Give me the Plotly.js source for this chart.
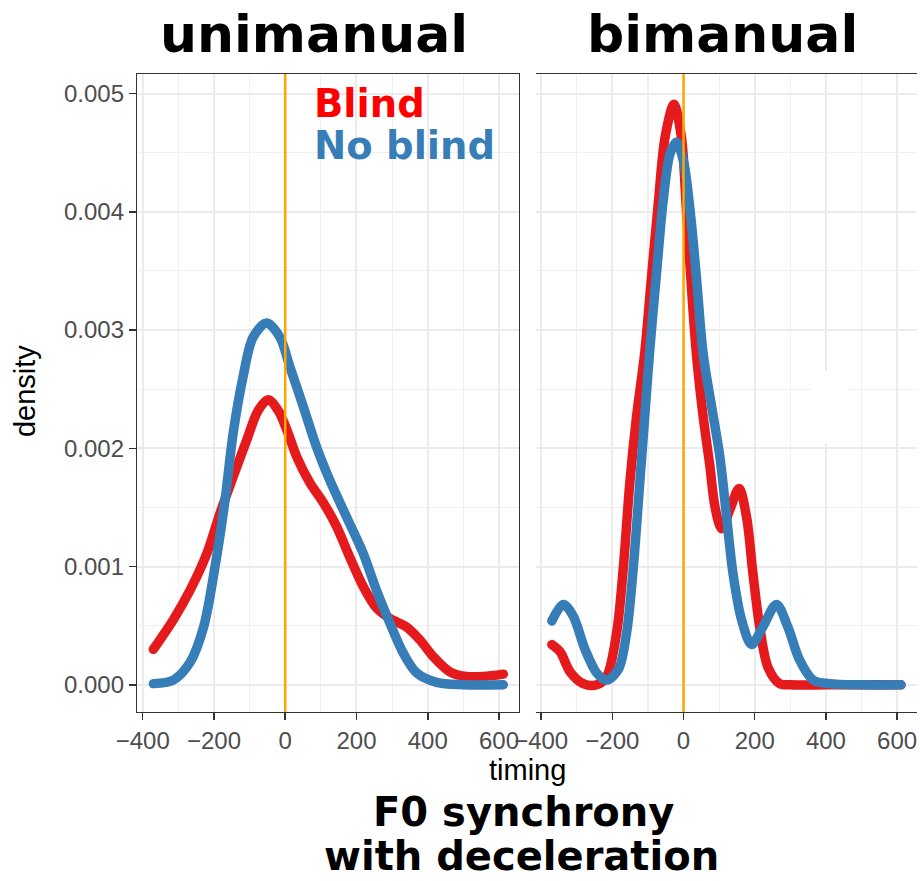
<!DOCTYPE html>
<html>
<head>
<meta charset="utf-8">
<script src="https://cdn.plot.ly/plotly-3.0.1.min.js"></script>
<style>
body{margin:0;padding:0;background:#fff;}
#chart{width:920px;height:881px;}
path.js-line{stroke-linecap:round;}
</style>
</head>
<body>
<div id="chart"></div>
<script>
const facetTitles = ["unimanual", "bimanual"];
const seriesNames = ["Blind", "No blind"];
const xTickVals = [-400, -200, 0, 200, 400, 600];
const yTickVals = [0, 0.001, 0.002, 0.003, 0.004, 0.005];

const uniBlindX = [-370,-314,-267,-220,-183,-146,-108,-76,-48,-20,4,32,69,107,144,181,219,256,294,340,378,415,462,509,556,612];
const uniBlindY = [0.00030,0.00055,0.00080,0.00111,0.00145,0.00176,0.00207,0.00232,0.00241,0.00232,0.00216,0.00193,0.00171,0.00154,0.00134,0.00108,0.00083,0.00065,0.00056,0.00049,0.00038,0.00024,0.00011,0.00007,0.00007,0.00009];

const uniNoBlindX = [-370,-314,-267,-229,-197,-169,-146,-118,-90,-52,-15,13,51,88,125,172,219,256,294,331,369,425,500,612];
const uniNoBlindY = [0.00001,0.00004,0.00019,0.00049,0.00100,0.00156,0.00213,0.00261,0.00294,0.00306,0.00294,0.00269,0.00235,0.00201,0.00173,0.00142,0.00111,0.00080,0.00052,0.00027,0.00010,0.00002,0,0];

const biBlindX = [-370,-347,-319,-282,-244,-216,-188,-169,-151,-132,-109,-90,-71,-52,-27,-6,8,22,36,55,74,88,107,130,156,177,195,214,237,270,300,400,500,611];
const biBlindY = [0.00034,0.00028,0.00011,0.00001,0,0.00007,0.00044,0.00100,0.00171,0.00227,0.00281,0.00345,0.00407,0.00463,0.00491,0.00463,0.00402,0.00337,0.00280,0.00227,0.00185,0.00151,0.00132,0.00148,0.00166,0.00142,0.00094,0.00049,0.00015,0.00001,0,0,0,0];

const biNoBlindX = [-370,-338,-310,-277,-244,-216,-183,-160,-141,-123,-109,-95,-76,-57,-38,-20,-1,18,36,55,79,102,121,139,163,191,223,261,293,326,364,410,500,611];
const biNoBlindY = [0.00054,0.00068,0.00058,0.00030,0.00010,0.00004,0.00013,0.00044,0.00100,0.00171,0.00227,0.00283,0.00348,0.00410,0.00449,0.00459,0.00444,0.00402,0.00345,0.00280,0.00235,0.00193,0.00142,0.00094,0.00055,0.00034,0.00049,0.00068,0.00049,0.00021,0.00004,0.00001,0,0];

const RED = "#E41A1C", BLUE = "#377EB8";

function tr(x, y, color, xa, name) {
  return {x: x, y: y, type: "scatter", mode: "lines", name: name, xaxis: xa, yaxis: "y",
    line: {color: color, width: 9.5, shape: "spline", smoothing: 0.9}, hoverinfo: "skip"};
}

const data = [
  tr(uniBlindX, uniBlindY, RED, "x", seriesNames[0]),
  tr(biBlindX, biBlindY, RED, "x2", seriesNames[0]),
  tr(uniNoBlindX, uniNoBlindY, BLUE, "x", seriesNames[1]),
  tr(biNoBlindX, biNoBlindY, BLUE, "x2", seriesNames[1])
];

const tickFont = {family: "Liberation Sans, Arial, sans-serif", size: 24, color: "#4D4D4D"};
function xaxisDef(domain) {
  return {domain: domain, range: [-416, 656], tickvals: xTickVals, ticks: "outside", ticklen: 7, tickwidth: 1.5,
    tickcolor: "#333333", showline: true, mirror: true, linecolor: "#333333", linewidth: 1.2,
    showgrid: true, gridcolor: "#EBEBEB", gridwidth: 2, zeroline: false, tickfont: tickFont,
    minor: {dtick: 100, tick0: 0, showgrid: true, gridcolor: "#F0F0F0", gridwidth: 1.2, ticks: ""}};
}

const layout = {
  width: 920, height: 881,
  margin: {l: 137, r: 3, t: 74, b: 169},
  paper_bgcolor: "#FFFFFF", plot_bgcolor: "#FFFFFF",
  showlegend: false,
  xaxis: xaxisDef([0, 0.4897]),
  xaxis2: Object.assign(xaxisDef([0.5109, 1]), {anchor: "y"}),
  yaxis: {range: [-0.00023, 0.005165], tickvals: yTickVals, tickformat: ".3f", ticks: "outside", ticklen: 7,
    tickwidth: 1.5, tickcolor: "#333333", showline: true, mirror: true, linecolor: "#333333", linewidth: 1.2,
    showgrid: true, gridcolor: "#EBEBEB", gridwidth: 2, zeroline: false, tickfont: tickFont,
    minor: {dtick: 0.0005, tick0: 0, showgrid: true, gridcolor: "#F0F0F0", gridwidth: 1.2, ticks: ""}},
  yaxis2: {range: [-0.00023, 0.005165], overlaying: "y", anchor: "x2", visible: false},
  shapes: [
    {type: "rect", xref: "x2", yref: "y", x0: 360, x1: 461, y0: 0.002037, y1: 0.002654,
      fillcolor: "#FFFFFF", line: {width: 0}, layer: "between"},
    {type: "line", xref: "x", yref: "paper", x0: 0, x1: 0, y0: 0, y1: 1,
      line: {color: "#FFA500", width: 2.5}, layer: "above"},
    {type: "line", xref: "x2", yref: "paper", x0: 0, x1: 0, y0: 0, y1: 1,
      line: {color: "#FFA500", width: 2.5}, layer: "above"}
  ],
  annotations: [
    {text: facetTitles[0], xref: "paper", yref: "paper", x: 0.2269, y: 1.0627, xanchor: "center", yanchor: "middle",
      showarrow: false, font: {family: "DejaVu Sans", size: 52, color: "#000000", weight: "bold"}},
    {text: facetTitles[1], xref: "paper", yref: "paper", x: 0.7506, y: 1.0627, xanchor: "center", yanchor: "middle",
      showarrow: false, font: {family: "DejaVu Sans", size: 52, color: "#000000", weight: "bold"}},
    {text: seriesNames[0], xref: "paper", yref: "paper", x: 0.2244, y: 0.953, xanchor: "left", yanchor: "middle",
      showarrow: false, font: {family: "DejaVu Sans", size: 38.5, color: "#FF0000", weight: "bold"}},
    {text: seriesNames[1], xref: "paper", yref: "paper", x: 0.2244, y: 0.888, xanchor: "left", yanchor: "middle",
      showarrow: false, font: {family: "DejaVu Sans", size: 38.5, color: BLUE, weight: "bold"}},
    {text: "timing", xref: "paper", yref: "paper", x: 0.5, y: -0.0909, xanchor: "center", yanchor: "middle",
      showarrow: false, font: {family: "Liberation Sans, Arial, sans-serif", size: 29, color: "#000000"}},
    {text: "density", xref: "paper", yref: "paper", x: -0.1436, y: 0.503, xanchor: "center", yanchor: "middle",
      textangle: -90, showarrow: false, font: {family: "Liberation Sans, Arial, sans-serif", size: 29, color: "#000000"}},
    {text: "F0 synchrony", xref: "paper", yref: "paper", x: 0.4949, y: -0.1575, xanchor: "center", yanchor: "middle",
      showarrow: false, font: {family: "DejaVu Sans", size: 40, color: "#000000", weight: "bold"}},
    {text: "with deceleration", xref: "paper", yref: "paper", x: 0.4929, y: -0.2250, xanchor: "center", yanchor: "middle",
      showarrow: false, font: {family: "DejaVu Sans", size: 40, color: "#000000", weight: "bold"}}
  ]
};

Plotly.newPlot("chart", data, layout, {staticPlot: true, displayModeBar: false});
</script>
</body>
</html>
